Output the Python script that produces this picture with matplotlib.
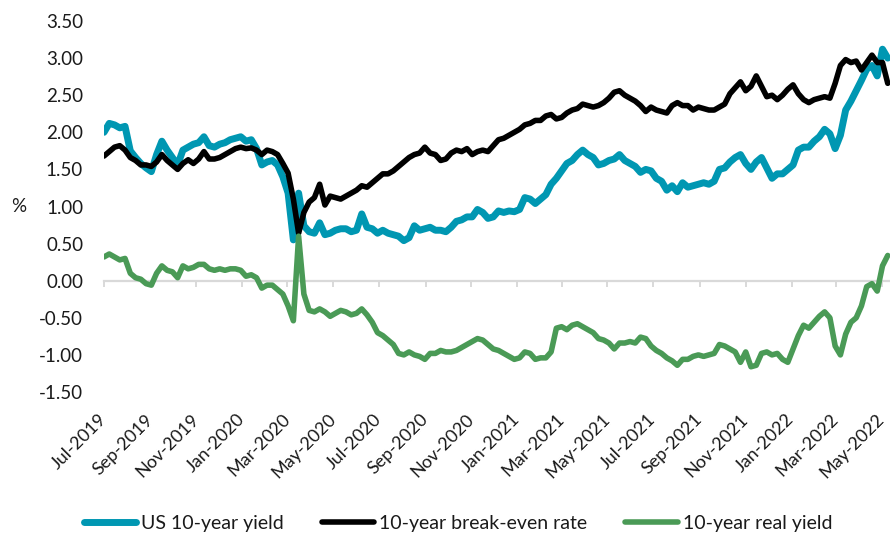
import matplotlib
matplotlib.use("Agg")
import matplotlib.pyplot as plt
import matplotlib.dates as mdates
import pandas as pd

# weekly observations (Mondays), Jul-2019 .. May-2022
dates = pd.date_range("2019-07-01", periods=150, freq="7D")

us10y = [
    2.00, 2.12, 2.10, 2.06, 2.08, 1.75, 1.66, 1.58, 1.52, 1.47,
    1.70, 1.88, 1.76, 1.66, 1.56, 1.76, 1.80, 1.84, 1.86, 1.94,
    1.82, 1.80, 1.84, 1.86, 1.90, 1.92, 1.94, 1.88, 1.90, 1.78,
    1.56, 1.60, 1.62, 1.56, 1.40, 1.18, 0.55, 1.18, 0.74, 0.66,
    0.64, 0.78, 0.62, 0.64, 0.68, 0.70, 0.70, 0.66, 0.68, 0.90,
    0.72, 0.70, 0.64, 0.68, 0.64, 0.62, 0.60, 0.54, 0.58, 0.74,
    0.68, 0.70, 0.72, 0.68, 0.68, 0.66, 0.72, 0.80, 0.82, 0.86,
    0.86, 0.96, 0.92, 0.84, 0.86, 0.94, 0.92, 0.94, 0.93, 0.96,
    1.12, 1.10, 1.04, 1.10, 1.16, 1.30, 1.38, 1.48, 1.58, 1.62,
    1.70, 1.76, 1.70, 1.66, 1.56, 1.58, 1.62, 1.64, 1.70, 1.62,
    1.58, 1.54, 1.46, 1.50, 1.48, 1.38, 1.34, 1.22, 1.28, 1.20,
    1.32, 1.26, 1.28, 1.30, 1.32, 1.30, 1.34, 1.50, 1.52, 1.60,
    1.66, 1.70, 1.58, 1.50, 1.60, 1.66, 1.52, 1.38, 1.44, 1.44,
    1.50, 1.56, 1.76, 1.80, 1.80, 1.88, 1.94, 2.04, 1.98, 1.78,
    1.96, 2.30, 2.42, 2.56, 2.70, 2.85, 2.90, 2.76, 3.12, 3.00,
]

breakeven = [
    1.68, 1.74, 1.80, 1.82, 1.76, 1.66, 1.62, 1.56, 1.56, 1.54,
    1.60, 1.70, 1.62, 1.56, 1.50, 1.58, 1.63, 1.58, 1.64, 1.74,
    1.64, 1.64, 1.66, 1.70, 1.74, 1.78, 1.80, 1.78, 1.79, 1.76,
    1.70, 1.76, 1.74, 1.70, 1.58, 1.45, 1.10, 0.64, 0.92, 1.06,
    1.12, 1.30, 1.02, 1.14, 1.12, 1.10, 1.14, 1.18, 1.22, 1.28,
    1.26, 1.32, 1.38, 1.44, 1.44, 1.48, 1.54, 1.60, 1.66, 1.70,
    1.72, 1.80, 1.72, 1.70, 1.62, 1.64, 1.72, 1.76, 1.74, 1.78,
    1.70, 1.74, 1.76, 1.74, 1.82, 1.90, 1.92, 1.96, 2.00, 2.04,
    2.10, 2.12, 2.16, 2.16, 2.22, 2.24, 2.18, 2.20, 2.26, 2.30,
    2.32, 2.38, 2.36, 2.34, 2.36, 2.40, 2.46, 2.54, 2.56, 2.50,
    2.46, 2.42, 2.36, 2.28, 2.34, 2.30, 2.28, 2.26, 2.36, 2.40,
    2.36, 2.36, 2.30, 2.34, 2.32, 2.30, 2.30, 2.34, 2.38, 2.52,
    2.60, 2.68, 2.56, 2.62, 2.76, 2.62, 2.48, 2.50, 2.44, 2.50,
    2.58, 2.64, 2.52, 2.44, 2.40, 2.44, 2.46, 2.48, 2.46, 2.66,
    2.90, 2.98, 2.94, 2.96, 2.84, 2.94, 3.04, 2.94, 2.94, 2.66,
]

real10y = [
    0.32, 0.36, 0.32, 0.28, 0.30, 0.10, 0.04, 0.02, -0.04, -0.06,
    0.10, 0.20, 0.14, 0.12, 0.04, 0.20, 0.16, 0.18, 0.22, 0.22,
    0.16, 0.14, 0.16, 0.14, 0.16, 0.16, 0.14, 0.06, 0.08, 0.04,
    -0.10, -0.06, -0.06, -0.12, -0.18, -0.34, -0.54, 0.60, -0.18, -0.40,
    -0.42, -0.38, -0.42, -0.48, -0.44, -0.40, -0.42, -0.46, -0.44, -0.38,
    -0.46, -0.56, -0.70, -0.74, -0.80, -0.86, -0.98, -1.00, -0.96, -1.00,
    -1.02, -1.06, -0.98, -0.98, -0.94, -0.96, -0.96, -0.94, -0.90, -0.86,
    -0.82, -0.78, -0.80, -0.86, -0.92, -0.94, -0.98, -1.02, -1.06, -1.04,
    -0.96, -0.98, -1.06, -1.04, -1.04, -0.96, -0.64, -0.62, -0.66, -0.60,
    -0.58, -0.62, -0.66, -0.70, -0.78, -0.80, -0.84, -0.92, -0.84, -0.84,
    -0.82, -0.84, -0.76, -0.78, -0.88, -0.94, -0.98, -1.04, -1.08, -1.14,
    -1.06, -1.06, -1.02, -1.00, -1.02, -1.00, -0.98, -0.86, -0.88, -0.92,
    -0.96, -1.10, -0.96, -1.16, -1.14, -0.98, -0.96, -1.00, -0.98, -1.06,
    -1.10, -0.92, -0.74, -0.60, -0.64, -0.56, -0.48, -0.42, -0.50, -0.88,
    -1.00, -0.72, -0.56, -0.50, -0.34, -0.08, -0.04, -0.14, 0.20, 0.34,
]

series = [
    ("US 10-year yield", us10y, "#0097b2", 5.0),
    ("10-year break-even rate", breakeven, "#000000", 4.0),
    ("10-year real yield", real10y, "#4a9a56", 4.0),
]

plt.rcParams["font.family"] = ["Lato", "DejaVu Sans"]
plt.rcParams["axes.unicode_minus"] = False
TXT = "#1a1a1a"
GRID = "#d9d9d9"

fig = plt.figure(figsize=(8.9, 5.35), dpi=100)
ax = fig.add_axes([104 / 890, 1 - 392 / 535, 786 / 890, 371 / 535])

for name, vals, col, lw in series:
    ax.plot(dates, vals, color=col, lw=lw, label=name,
            solid_capstyle="round", solid_joinstyle="round")

ymin, ymax = -1.5, 3.5
ax.set_ylim(ymin, ymax)
ax.set_xlim(pd.Timestamp("2019-07-01"), pd.Timestamp("2022-05-12"))
ax.set_yticks([ymin + 0.5 * i for i in range(11)])
ax.yaxis.set_major_formatter(plt.FormatStrFormatter("%.2f"))

ax.xaxis.set_major_locator(mdates.MonthLocator(bymonth=[1, 3, 5, 7, 9, 11]))
ax.xaxis.set_major_formatter(mdates.DateFormatter("%b-%Y"))
for s in ax.spines.values():
    s.set_visible(False)
ax.tick_params(axis="y", length=0, pad=15, labelsize=13.5, labelcolor=TXT)
ax.tick_params(axis="x", length=0, pad=18, labelsize=13.0, labelcolor=TXT)
for lab in ax.get_xticklabels():
    lab.set_rotation(45)
    lab.set_ha("right")
    lab.set_va("center")
    lab.set_rotation_mode("anchor")

ax.set_ylabel("%", rotation=0, fontsize=13.5, color=TXT, va="center")
ax.yaxis.set_label_coords(-0.109, 0.5)

# grey zero line with its own tick marks
zero = ax.secondary_xaxis((0 - ymin) / (ymax - ymin))
zero.xaxis.set_major_locator(mdates.MonthLocator(bymonth=[1, 3, 5, 7, 9, 11]))
zero.tick_params(axis="x", direction="out", length=4, width=1.4,
                 color=GRID, labelbottom=False)
zero.spines["bottom"].set_color(GRID)
zero.spines["bottom"].set_linewidth(1.6)

fig.legend(loc="center", bbox_to_anchor=(458 / 890, 1 - 523 / 535), ncol=3,
           frameon=False, fontsize=14.0, labelcolor=TXT, handlelength=2.7,
           handletextpad=0.25, columnspacing=1.95)

fig.savefig("out.png", dpi=100)
